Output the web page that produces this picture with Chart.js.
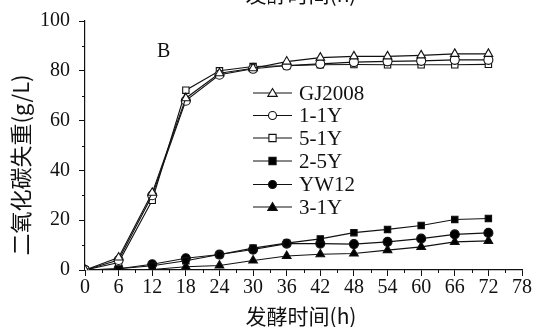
<!DOCTYPE html>
<html>
<head>
<meta charset="utf-8">
<script src="https://cdn.jsdelivr.net/npm/chart.js@4"></script>
<style>
  html, body { margin: 0; padding: 0; background: #fff; }
  #wrap { width: 535px; height: 327px; position: relative; }
</style>
</head>
<body>
<div id="wrap"><canvas id="chart"></canvas></div>
<script>
'use strict';

/* ─── Data ─────────────────────────────────────────────────── */
const hours   = [0, 6, 12, 18, 24, 30, 36, 42, 48, 54, 60, 66, 72];
const gj2008  = [0, 5, 31, 69, 79, 81, 83.7, 85.3, 85.8, 85.8, 86.2, 86.8, 86.8];
const y11     = [0, 4, 30, 68, 78.4, 80.8, 82.1, 82.8, 83.5, 83.8, 84, 84.4, 84.4];
const y51     = [0, 3, 28, 72.2, 80, 81.7, 82, 82.4, 82.5, 82.4, 82.4, 82.4, 82.6];
const y25     = [0, 0.5, 1.7, 3.7, 6.2, 8.8, 10.8, 12.5, 15, 16.3, 17.9, 20.3, 20.7];
const yw12    = [0, 0.5, 2.3, 4.7, 6.2, 8.2, 10.6, 10.6, 10.4, 11.3, 12.6, 14.3, 14.9];
const y31     = [0, 0, 0.2, 1.3, 1.8, 3.8, 5.6, 6.3, 6.6, 8, 9.3, 11.3, 11.7];
const seriesNames = ['GJ2008', '1-1Y', '5-1Y', '2-5Y', 'YW12', '3-1Y'];
const xTicks  = [0, 6, 12, 18, 24, 30, 36, 42, 48, 54, 60, 66, 72, 78];
const yTicks  = [0, 20, 40, 60, 80, 100];

const xTitle = '发酵时间(h)';
const yTitle = '二氧化碳失重(g/L)';
const panelLabel = 'B';

/* ─── Styles ───────────────────────────────────────────────── */
const SERIF = "'Liberation Serif','Times New Roman',serif";
const CJK   = "'Noto Sans CJK SC','Liberation Serif',serif";
const markers = [
  { style: 'triangle', fill: '#fff', r: 5 },
  { style: 'circle',   fill: '#fff', r: 4.5 },
  { style: 'rect',     fill: '#fff', r: 4.5 },
  { style: 'rect',     fill: '#000', r: 4.5 },
  { style: 'circle',   fill: '#000', r: 4.5 },
  { style: 'triangle', fill: '#000', r: 5 },
];
const allSeries = [gj2008, y11, y51, y25, yw12, y31];

const datasets = allSeries.map((vals, i) => ({
  label: seriesNames[i],
  data: vals.map((v, j) => ({ x: hours[j], y: v })),
  borderColor: '#111',
  borderWidth: 1.1,
  pointStyle: markers[i].style,
  pointRadius: markers[i].r,
  pointBackgroundColor: markers[i].fill,
  pointBorderColor: '#111',
  pointBorderWidth: 1.1,
  tension: 0,
}));

function drawMarker(ctx, style, cx, cy, r) {
  if (style === 'circle') {
    ctx.arc(cx, cy, r, 0, Math.PI * 2);
  } else if (style === 'rect') {
    ctx.rect(cx - r * 0.9, cy - r * 0.9, r * 1.8, r * 1.8);
  } else {
    ctx.moveTo(cx, cy - r);
    ctx.lineTo(cx + r * 1.05, cy + r * 0.75);
    ctx.lineTo(cx - r * 1.05, cy + r * 0.75);
    ctx.closePath();
  }
}

/* ─── Extras plugin: minor ticks, legend, titles ───────────── */
const extras = {
  id: 'extras',
  afterDraw(chart) {
    const { ctx, scales: { x, y } } = chart;
    ctx.save();
    ctx.strokeStyle = '#111';
    ctx.lineWidth = 1;

    // minor ticks
    ctx.beginPath();
    for (let v = 3; v < 78; v += 6) {
      const px = Math.round(x.getPixelForValue(v)) + 0.5;
      ctx.moveTo(px, y.bottom); ctx.lineTo(px, y.bottom + 3);
    }
    for (let v = 10; v < 100; v += 20) {
      const py = Math.round(y.getPixelForValue(v)) + 0.5;
      ctx.moveTo(x.left, py); ctx.lineTo(x.left - 3, py);
    }
    ctx.stroke();

    // legend
    const lx0 = 253, lx1 = 292, tx = 299;
    const rows = [93, 115.5, 138, 161, 184.5, 207];
    ctx.font = '21px ' + SERIF;
    ctx.textBaseline = 'middle';
    rows.forEach((ry, i) => {
      ctx.strokeStyle = '#111';
      ctx.lineWidth = 1.1;
      ctx.beginPath();
      ctx.moveTo(lx0, ry); ctx.lineTo(lx1, ry);
      ctx.stroke();
      ctx.fillStyle = markers[i].fill;
      ctx.beginPath();
      drawMarker(ctx, markers[i].style, (lx0 + lx1) / 2, ry, markers[i].r - 0.5);
      ctx.fill(); ctx.stroke();
      ctx.fillStyle = '#111';
      ctx.fillText(seriesNames[i], tx, ry + 1);
    });

    // panel label
    ctx.font = '20px ' + SERIF;
    ctx.fillText(panelLabel, 157, 52);

    // x title
    ctx.textAlign = 'center';
    ctx.font = '21px ' + CJK;
    ctx.textBaseline = 'alphabetic';
    ctx.fillText(xTitle, 301, 324);
    // cut-off title at top (from panel above)
    ctx.fillText(xTitle, 301, 2);

    // y title
    ctx.font = '22px ' + CJK;
    ctx.translate(21, 165);
    ctx.rotate(-Math.PI / 2);
    ctx.textBaseline = 'middle';
    ctx.fillText(yTitle, 0, 0);
    ctx.restore();
  }
};

/* ─── Chart ────────────────────────────────────────────────── */
new Chart(document.getElementById('chart'), {
  type: 'line',
  data: { datasets },
  plugins: [extras],
  options: {
    responsive: true,
    maintainAspectRatio: false,
    animation: false,
    layout: { padding: { top: 19, right: 13, left: 0, bottom: 0 } },
    plugins: { legend: { display: false }, tooltip: { enabled: false } },
    scales: {
      x: {
        type: 'linear',
        min: 0, max: 78,
        afterBuildTicks: s => { s.ticks = xTicks.map(v => ({ value: v })); },
        afterFit: s => { s.height = 57; },
        border: { color: '#111', width: 1.2 },
        grid: { drawOnChartArea: false, tickLength: 6, color: '#111' },
        ticks: { color: '#111', font: { family: SERIF, size: 20 }, padding: 0, maxRotation: 0 },
      },
      y: {
        min: 0, max: 100,
        afterBuildTicks: s => { s.ticks = yTicks.map(v => ({ value: v })); },
        afterFit: s => { s.width = 85; },
        border: { color: '#111', width: 1.2 },
        grid: { drawOnChartArea: false, tickLength: 6, color: '#111' },
        ticks: { color: '#111', font: { family: SERIF, size: 20 }, padding: 9 },
      },
    },
  },
});
</script>
</body>
</html>
